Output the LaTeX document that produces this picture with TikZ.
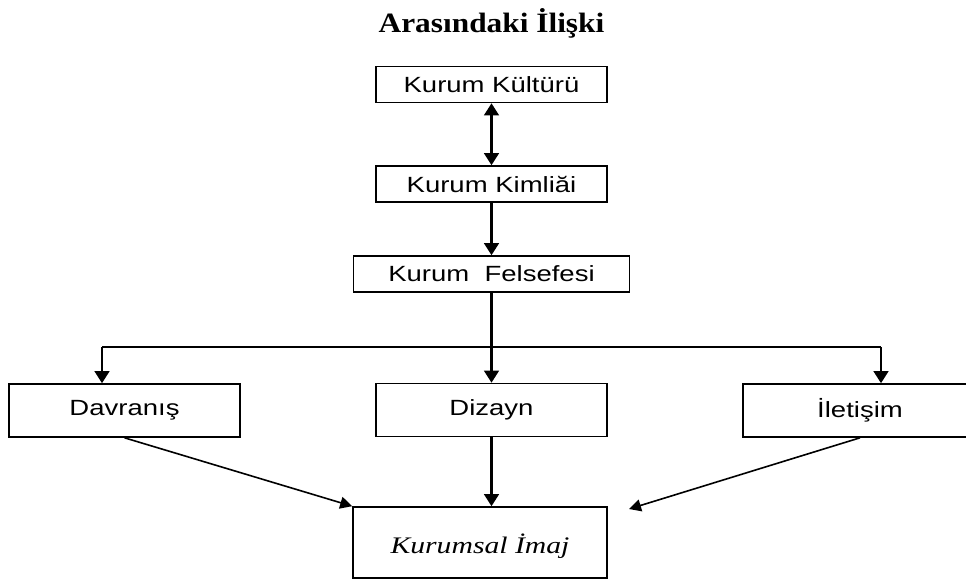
\documentclass[tikz,border=0pt]{standalone}
\usepackage{fontspec}
\setmainfont{Liberation Serif}
\setsansfont{Liberation Sans}
\newfontfamily\boxfont[FakeStretch=1.25]{Liberation Sans}
\newfontfamily\titlefont[FakeStretch=1.12]{Liberation Serif}
\newfontfamily\imajfont[FakeStretch=1.25]{Liberation Serif}
\usetikzlibrary{arrows.meta}

\begin{document}
\begin{tikzpicture}[x=0.75pt, y=-0.75pt, line width=1.2pt,
    kutu/.style={draw=black, fill=white, minimum width=173.25pt, minimum height=27pt,
      inner sep=0pt, font=\boxfont\fontsize{16.5}{19}\selectfont},
    ok/.style={-{Triangle[width=11pt, length=9pt]}, line width=1.6pt},
    ciftok/.style={{Triangle[width=11pt, length=9pt]}-{Triangle[width=11pt, length=9pt]}, line width=1.6pt},
    ince/.style={-{Triangle[width=9pt, length=9pt]}, line width=1.2pt}]
    \useasboundingbox (0, 0) rectangle (966, 579);

    % title
    \node[anchor=base, font=\titlefont\bfseries\fontsize{21}{25}\selectfont] (baslik) at (491.5, 32) {Arasındaki İlişki};

    % draw upper boxes
    \node[kutu] (kultur) at (491.5, 84.5) {Kurum Kültürü};
    \node[kutu] (kimlik) at (491.5, 184) {Kurum Kimliăi};
    \node[kutu, minimum width=207pt] (felsefe) at (491.5, 274) {Kurum~ Felsefesi};

    % draw middle boxes
    \node[kutu, minimum height=39.75pt] (davranis) at (124.5, 410.5) {Davranış};
    \node[kutu, minimum height=39.75pt] (dizayn) at (491.5, 410) {Dizayn};
    \node[kutu, minimum height=39.75pt, minimum width=175.5pt] (iletisim) at (860, 410.5) {İletişim};

    % draw result box
    \node[kutu, minimum width=190.5pt, minimum height=53.25pt, text height=21pt,
      font=\imajfont\itshape\fontsize{17.8}{21}\selectfont] (imaj) at (480, 542.5) {Kurumsal İmaj};

    % draw vertical arrows
    \draw[ciftok] (kultur) -- (kimlik);
    \draw[ok] (kimlik) -- (felsefe);
    \draw[ok] (felsefe) -- (dizayn);

    % draw branch line
    \coordinate (solkol) at (102, 347);
    \coordinate (sagkol) at (881, 347);
    \draw (solkol) -- (sagkol);
    \draw[ok] (solkol) -- (solkol |- davranis.north);
    \draw[ok] (sagkol) -- (sagkol |- iletisim.north);

    % draw arrows to result
    \coordinate (sagucu) at (629, 509);
    \draw[ince] (davranis.south) -- (imaj.north west);
    \draw[ok] (dizayn.south) -- (dizayn.south |- imaj.north);
    \draw[ince] (iletisim.south) -- (sagucu);

\end{tikzpicture}
\end{document}
